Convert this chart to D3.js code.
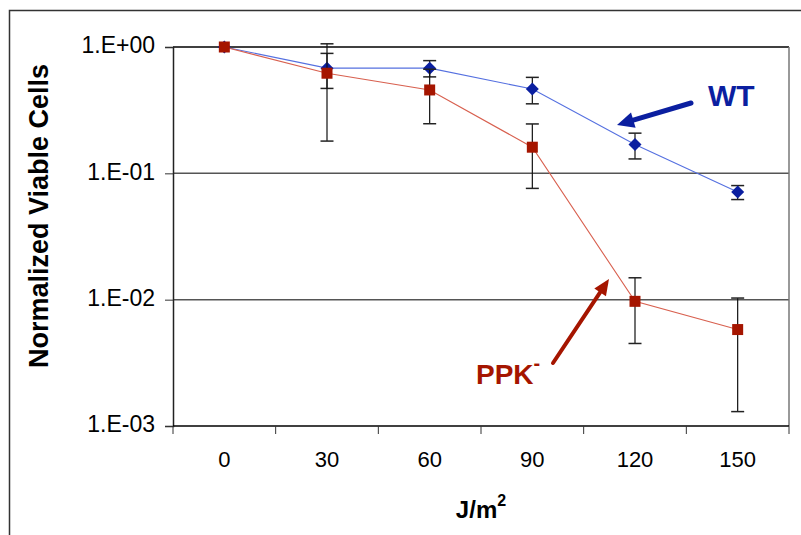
<!DOCTYPE html>
<html><head><meta charset="utf-8">
<script src="https://cdn.jsdelivr.net/npm/d3@7"></script>
<style>
html,body{margin:0;padding:0;background:#fff;}
svg{display:block;font-family:"Liberation Sans",Arial,Helvetica,sans-serif;}
</style></head>
<body>
<svg id="chart" width="801" height="535"></svg>
<script>
// ---- data ----
const doses = ["0","30","60","90","120","150"];
const wtValues  = [1.0, 0.68, 0.68, 0.465, 0.169, 0.071];
const wtErrors  = [0,   0.21, 0.10, 0.11,  0.039, 0.009];
const ppkValues = [1.0, 0.62, 0.457, 0.161, 0.0097, 0.0058];
const ppkErrors = [0,   0.44, 0.21,  0.085, 0.0052, 0.0045];
const yTickValues = [1, 0.1, 0.01, 0.001];
const yTickLabels = ["1.E+00","1.E-01","1.E-02","1.E-03"];

(function(){
// ---- layout ----
const W = 801, H = 535;
const pLeft = 173, pRight = 789, pTop = 47, pBottom = 426;
const svg = d3.select("#chart");

const x = d3.scaleBand().domain(doses).range([pLeft, pRight]).padding(0);
const y = d3.scaleLog().domain([0.001, 1]).range([pBottom, pTop]);

// outer frame
svg.append("path").attr("d", `M9.5,${H} V10.5 H${W}`)
  .attr("fill","none").attr("stroke","#333").attr("stroke-width",1.5);

// gridlines
svg.append("g").selectAll("line").data(yTickValues.filter(v => v < 1 && v > 0.001)).join("line")
  .attr("x1", pLeft).attr("x2", pRight)
  .attr("y1", d => y(d)).attr("y2", d => y(d))
  .attr("stroke","#555").attr("stroke-width",1.5);
// top border (1.E+00 gridline)
svg.append("line").attr("x1",pLeft).attr("x2",pRight).attr("y1",y(1)).attr("y2",y(1))
  .attr("stroke","#000").attr("stroke-width",1.5);
// right border
svg.append("line").attr("x1",pRight).attr("x2",pRight).attr("y1",pTop).attr("y2",pBottom)
  .attr("stroke","#777").attr("stroke-width",1.5);

// y axis
const yAxis = d3.axisLeft(y).tickValues(yTickValues)
  .tickFormat((d,i) => yTickLabels[i]).tickSize(8).tickPadding(10);
const gy = svg.append("g").attr("transform",`translate(${pLeft},0)`).call(yAxis);
gy.select(".domain").attr("stroke","#222").attr("stroke-width",1.5);
gy.selectAll(".tick line").attr("stroke","#333");
gy.selectAll("text").attr("font-size",23).attr("fill","#000").attr("dy","0.25em")
  .attr("font-family",'"Liberation Sans",Arial,sans-serif');

// x axis
const gx = svg.append("g").attr("transform",`translate(0,${pBottom})`);
gx.append("line").attr("x1",pLeft).attr("x2",pRight).attr("stroke","#000").attr("stroke-width",1.5);
const bounds = doses.map(d => x(d)).concat([x(doses[doses.length-1]) + x.bandwidth()]);
gx.selectAll("line.tk").data(bounds).join("line").attr("class","tk")
  .attr("x1", d => d).attr("x2", d => d).attr("y1",0).attr("y2",8)
  .attr("stroke","#333");
gx.selectAll("text").data(doses).join("text")
  .attr("x", d => x(d) + x.bandwidth()/2).attr("y", 41)
  .attr("text-anchor","middle").attr("font-size",22).text(d => d);

// axis titles
svg.append("text").attr("transform","translate(48,216) rotate(-90)")
  .attr("text-anchor","middle").attr("font-size",27).attr("font-weight","bold")
  .text("Normalized Viable Cells");
const xt = svg.append("text").attr("x",481).attr("y",518).attr("text-anchor","middle")
  .attr("font-size",24).attr("font-weight","bold");
xt.append("tspan").text("J/m");
xt.append("tspan").attr("font-size",16).attr("dy",-12).text("2");

const cx = d => x(d) + x.bandwidth()/2;

function drawSeries(vals, errs, lineColor, markColor, shape) {
  const pts = doses.map((d,i) => ({d, v: vals[i], e: errs[i]}));
  const eb = svg.append("g");
  pts.filter(p => p.e > 0).forEach(p => {
    const y1 = y(p.v + p.e), y2 = y(Math.max(p.v - p.e, 1e-6));
    const X = cx(p.d);
    eb.append("line").attr("x1",X).attr("x2",X).attr("y1",y1).attr("y2",y2)
      .attr("stroke","#111").attr("stroke-width",1.2);
    [y1,y2].forEach(yy => eb.append("line").attr("x1",X-6.5).attr("x2",X+6.5)
      .attr("y1",yy).attr("y2",yy).attr("stroke","#222").attr("stroke-width",1.5));
  });
  svg.append("path").datum(pts)
    .attr("d", d3.line().x(p => cx(p.d)).y(p => y(p.v)))
    .attr("fill","none").attr("stroke",lineColor).attr("stroke-width",1.1);
  const g = svg.append("g").selectAll("path").data(pts).join("path")
    .attr("fill", markColor);
  if (shape === "diamond") {
    g.attr("d", p => { const X = cx(p.d), Y = y(p.v), r = 6.5;
      return `M${X},${Y-r} L${X+r},${Y} L${X},${Y+r} L${X-r},${Y} Z`; });
  } else {
    g.attr("d", p => { const X = cx(p.d), Y = y(p.v), r = 5.5;
      return `M${X-r},${Y-r} H${X+r} V${Y+r} H${X-r} Z`; });
  }
}

drawSeries(wtValues, wtErrors, "#5570e0", "#0b1fa0", "diamond");
drawSeries(ppkValues, ppkErrors, "#d8604f", "#a51500", "square");

// annotations
function arrow(x1,y1,x2,y2,color,w,headLen,headW) {
  const ang = Math.atan2(y2-y1, x2-x1);
  const bx = x2 - headLen*Math.cos(ang), by = y2 - headLen*Math.sin(ang);
  svg.append("line").attr("x1",x1).attr("y1",y1).attr("x2",bx).attr("y2",by)
    .attr("stroke",color).attr("stroke-width",w).attr("stroke-linecap","round");
  const px = -Math.sin(ang)*headW, py = Math.cos(ang)*headW;
  svg.append("path").attr("d",`M${x2},${y2} L${bx+px},${by+py} L${bx-px},${by-py} Z`)
    .attr("fill",color);
}
arrow(691,103,617,125,"#0b1fa0",5,17,8);
arrow(553,363,609,279,"#a51500",4,16,7);

svg.append("text").attr("x",708).attr("y",106).attr("font-size",30).attr("font-weight","bold")
  .attr("fill","#0b1fa0").text("WT");
const pt = svg.append("text").attr("x",476).attr("y",384).attr("font-size",28).attr("font-weight","bold")
  .attr("fill","#a51500");
pt.append("tspan").text("PPK");
pt.append("tspan").attr("dy",-14).attr("font-size",20).text("-");
})();
</script>
</body></html>
